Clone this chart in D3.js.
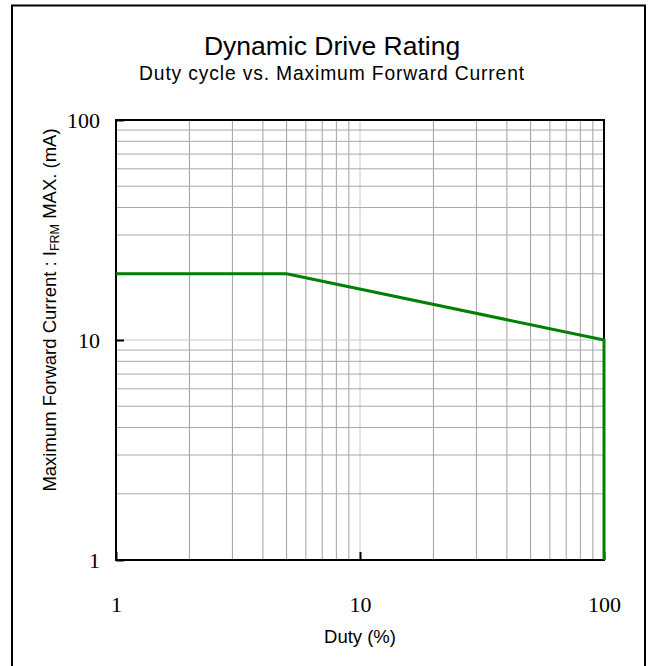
<!DOCTYPE html>
<html><head><meta charset="utf-8">
<script src="https://cdn.jsdelivr.net/npm/d3@7"></script>
<style>html,body{margin:0;padding:0;background:#fff;}</style>
</head><body>
<svg id="c" width="649" height="666"></svg>
<script>
const dutyPct = [1, 5, 100, 100];
const currentMA = [20, 20, 10, 1];
const xTickVals = [1, 10, 100];
const yTickVals = [1, 10, 100];
const xTickLabels = ["1", "10", "100"];
const yTickLabels = ["1", "10", "100"];
const titleText = "Dynamic Drive Rating";
const subtitleText = "Duty cycle vs. Maximum Forward Current";
const xLabel = "Duty (%)";

const svg = d3.select("#c");
const M = {l:116, t:120, r:604, b:560};
const x = d3.scaleLog().domain([1,100]).range([M.l, M.r]);
const y = d3.scaleLog().domain([1,100]).range([M.b, M.t]);
const sans = "'Liberation Sans', Arial, sans-serif";

// outer frame
svg.append("rect").attr("x",12).attr("y",5.5).attr("width",633).attr("height",680)
  .attr("fill","none").attr("stroke","#000").attr("stroke-width",2);

// grid
const minor = [];
[1,10].forEach(d=>{for(let k=1;k<=9;k++){ if(d*k>1 && d*k<100) minor.push(d*k);} });
svg.append("g").selectAll("line.v").data(minor).join("line")
  .attr("x1",d=>x(d)).attr("x2",d=>x(d)).attr("y1",M.t).attr("y2",M.b)
  .attr("stroke",d=>d===10?"#c8c8c8":"#a0a0a0").attr("stroke-width",1);
svg.append("g").selectAll("line.h").data(minor).join("line")
  .attr("y1",d=>y(d)).attr("y2",d=>y(d)).attr("x1",M.l).attr("x2",M.r)
  .attr("stroke",d=>d===10?"#c8c8c8":"#a8a8a8").attr("stroke-width",1);

// plot frame
svg.append("rect").attr("x",M.l).attr("y",M.t).attr("width",M.r-M.l).attr("height",M.b-M.t)
  .attr("fill","none").attr("stroke","#000").attr("stroke-width",2);

// axes
const xAxis = d3.axisBottom(x).tickValues(xTickVals).tickSizeInner(-8).tickSizeOuter(0)
  .tickPadding(36).tickFormat((d,i)=>xTickLabels[i]);
const gx = svg.append("g").attr("transform",`translate(0,${M.b})`).call(xAxis);
const yAxis = d3.axisLeft(y).tickValues(yTickVals).tickSizeInner(-8).tickSizeOuter(0)
  .tickPadding(16).tickFormat((d,i)=>yTickLabels[i]);
const gy = svg.append("g").attr("transform",`translate(${M.l},0)`).call(yAxis);
[gx,gy].forEach(g=>{
  g.select(".domain").remove();
  g.selectAll(".tick line").attr("stroke","#000").attr("stroke-width",2);
  g.selectAll(".tick text").attr("font-family","'Liberation Serif', serif").attr("font-size",22).attr("fill","#000");
});

// data line
const line = d3.line().x(d=>x(d[0])).y(d=>y(d[1]));
svg.append("path").datum(dutyPct.map((d,i)=>[d,currentMA[i]]))
  .attr("d",line).attr("fill","none").attr("stroke","#008000").attr("stroke-width",3);

// titles
svg.append("text").attr("x",332).attr("y",55).attr("text-anchor","middle")
  .attr("font-family",sans).attr("font-size",26.5).text(titleText);
svg.append("text").attr("x",332).attr("y",80).attr("text-anchor","middle")
  .attr("font-family",sans).attr("font-size",19.3).attr("letter-spacing",0.85).text(subtitleText);
svg.append("text").attr("x",360).attr("y",643).attr("text-anchor","middle")
  .attr("font-family",sans).attr("font-size",18.5).text(xLabel);

const yl = svg.append("text").attr("transform","translate(56,310) rotate(-90)").attr("text-anchor","middle")
  .attr("font-family",sans).attr("font-size",18.5);
yl.append("tspan").text("Maximum Forward Current : I");
yl.append("tspan").attr("font-size",12.5).attr("dy",3).text("FRM");
yl.append("tspan").attr("dy",-3).text(" MAX. (mA)");
</script>
</body></html>
